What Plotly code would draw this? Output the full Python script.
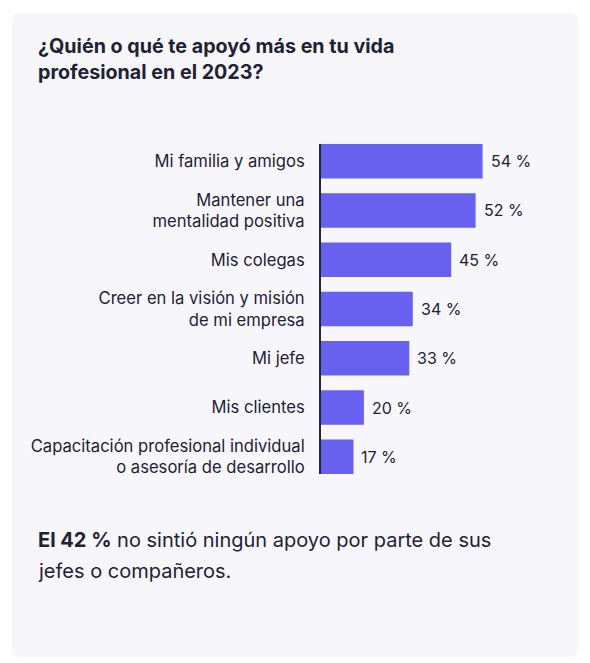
import plotly.graph_objects as go

categories = [
    "Mi familia y amigos",
    "Mantener una<br>mentalidad positiva",
    "Mis colegas",
    "Creer en la visión y misión<br>de mi empresa",
    "Mi jefe",
    "Mis clientes",
    "Capacitación profesional individual<br>o asesoría de desarrollo",
]
values = [54, 52, 45, 34, 33, 20, 17]
value_labels = ["54 %", "52 %", "45 %", "34 %", "33 %", "20 %", "17 %"]

title_lines = ["¿Quién o qué te apoyó más en tu vida", "profesional en el 2023?"]
footer_lines = ["<b>El 42 %</b> no sintió ningún apoyo por parte de sus", "jefes o compañeros."]

W, H = 590, 663
L, R, T, B = 321, 30, 144, 189
PW, PH = W - L - R, H - T - B

def px(x):
    return (x - L) / PW

def py(y):
    return (H - B - y) / PH

FONT = "Inter, Roboto, sans-serif"
DARK = "#1f2233"

fig = go.Figure(go.Bar(
    x=values, y=categories, orientation="h", base=0,
    marker=dict(color="#6861f0", line=dict(width=0)),
    width=0.7, hoverinfo="skip",
))

annotations = []
for c, v, t in zip(categories, values, value_labels):
    annotations.append(dict(x=v, y=c, xref="x", yref="y", text=t, showarrow=False,
                            xanchor="left", yanchor="middle", xshift=6,
                            font=dict(family=FONT, size=16, color=DARK)))

title_y = [46, 72]
for t, yy in zip(title_lines, title_y):
    annotations.append(dict(x=px(36), y=py(yy), xref="paper", yref="paper", text="<b>" + t + "</b>",
                            showarrow=False, xanchor="left", yanchor="middle",
                            font=dict(family=FONT, size=19.7, color=DARK)))
footer_y = [540, 571]
for t, yy in zip(footer_lines, footer_y):
    annotations.append(dict(x=px(36), y=py(yy), xref="paper", yref="paper", text=t,
                            showarrow=False, xanchor="left", yanchor="middle",
                            font=dict(family=FONT, size=20, color=DARK)))

# card background with rounded corners
x0, x1, y0, y1, r = 12, 578, 13, 657, 7
path = (f"M {px(x0+r)},{py(y0)} L {px(x1-r)},{py(y0)} Q {px(x1)},{py(y0)} {px(x1)},{py(y0+r)} "
        f"L {px(x1)},{py(y1-r)} Q {px(x1)},{py(y1)} {px(x1-r)},{py(y1)} "
        f"L {px(x0+r)},{py(y1)} Q {px(x0)},{py(y1)} {px(x0)},{py(y1-r)} "
        f"L {px(x0)},{py(y0+r)} Q {px(x0)},{py(y0)} {px(x0+r)},{py(y0)} Z")

fig.update_layout(
    width=W, height=H,
    margin=dict(l=L, r=R, t=T, b=B),
    paper_bgcolor="white", plot_bgcolor="rgba(0,0,0,0)",
    showlegend=False,
    annotations=annotations,
    shapes=[dict(type="path", path=path, xref="paper", yref="paper",
                 fillcolor="#f6f6fb", line=dict(width=0), layer="below")],
    xaxis=dict(range=[7.7, 7.7 + PW / 3.49], visible=False, fixedrange=True),
    yaxis=dict(autorange=False, range=[6.35, -0.35], showgrid=False, zeroline=False,
               showline=True, linecolor="#22242f", linewidth=2,
               ticks="", ticklabelstandoff=11,
               tickfont=dict(family=FONT, size=16.6, color=DARK), fixedrange=True),
)

fig.write_html("out.html", config={"displayModeBar": False})
